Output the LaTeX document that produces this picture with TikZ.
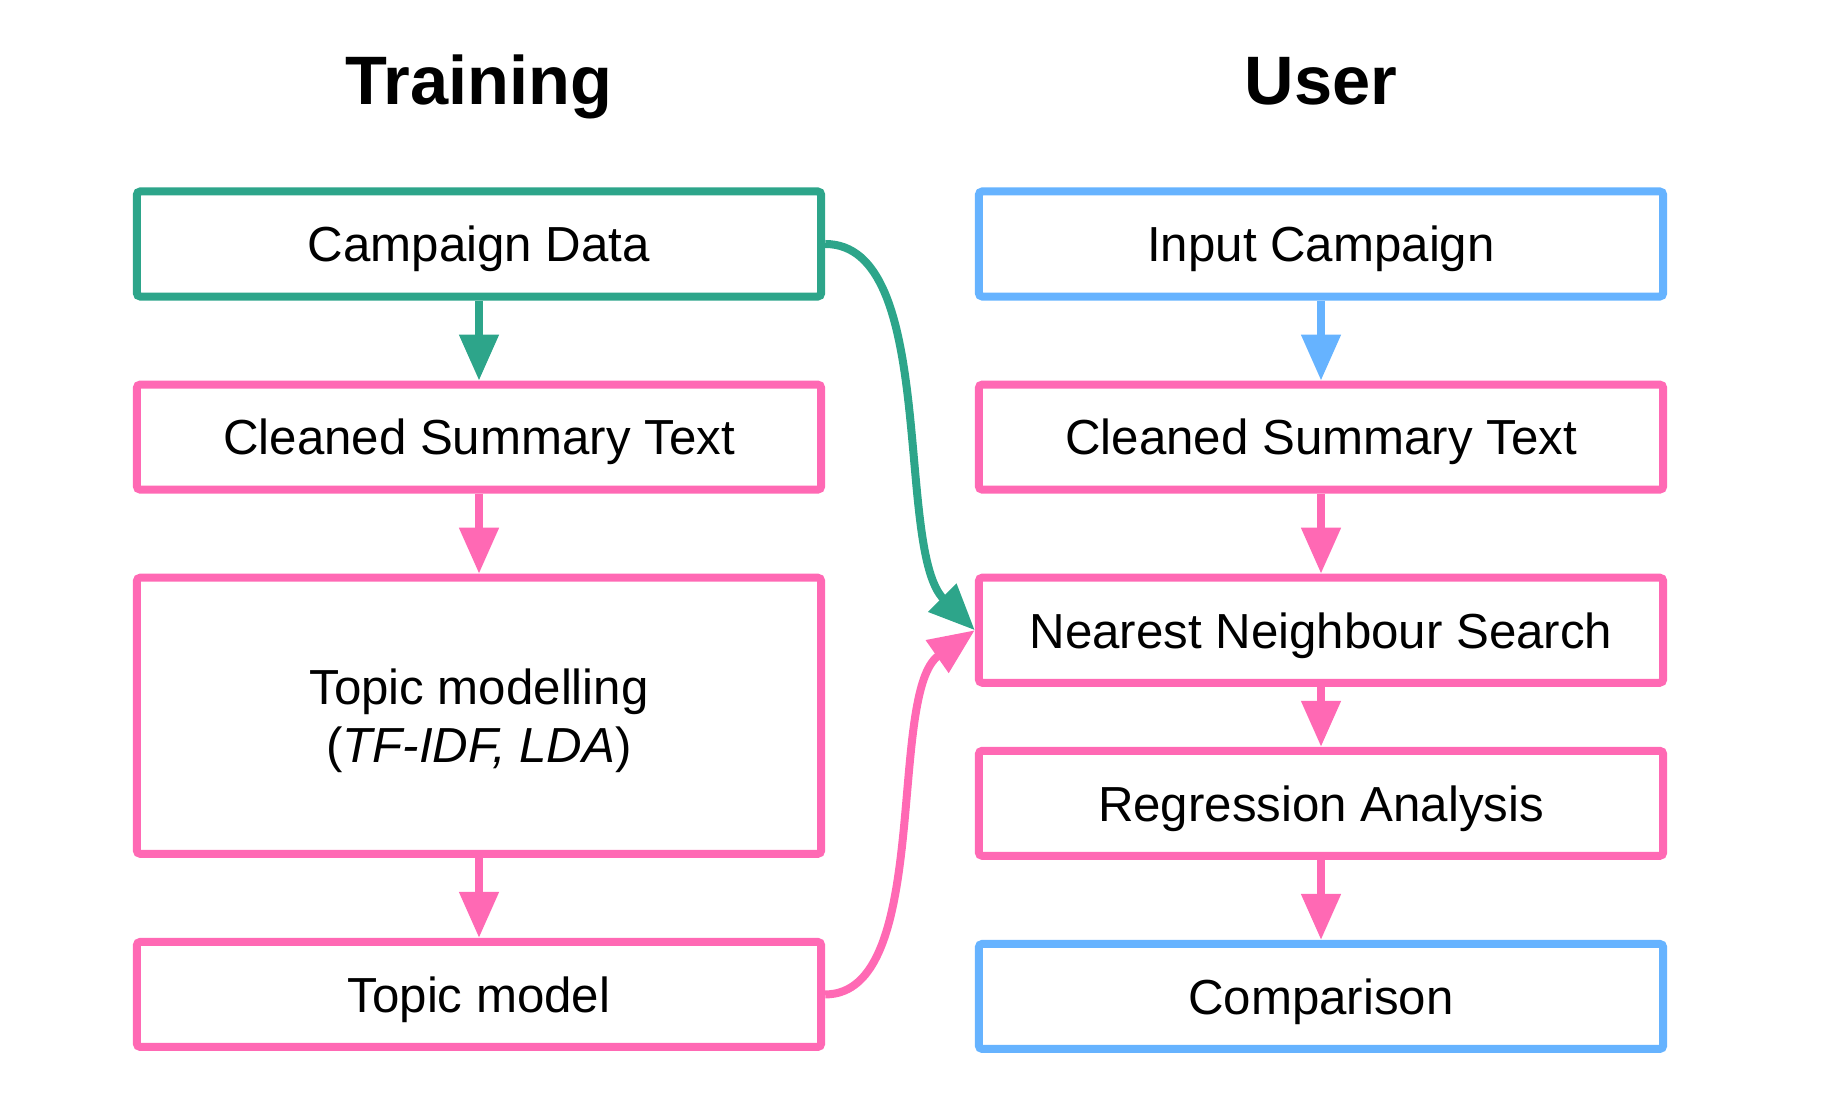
\documentclass[tikz,border=0pt]{standalone}
\usepackage{fontspec}
\setmainfont{Liberation Sans}
\usetikzlibrary{arrows.meta,positioning}
\definecolor{train-green}{HTML}{2DA58A}
\definecolor{step-pink}{HTML}{FF69B4}
\definecolor{user-blue}{HTML}{66B3FF}
\tikzset{
    flow-box/.style = {draw=#1, fill=white, line width=0.08cm, rectangle, rounded corners=1pt, inner sep=0pt, minimum width=6.84cm, minimum height=1.05cm, text depth=0pt, align=center, font=\fontsize{14}{16.5}\selectfont},
    col-title/.style = {anchor=base, font=\fontsize{19.5}{23}\selectfont\bfseries},
    flow-arrow/.style = {draw=#1, line width=0.08cm, -{Triangle[width=0.38cm, length=0.46cm]}},
}

\begin{document}
\begin{tikzpicture}[x=0.01cm, y=-0.01cm]
\useasboundingbox (0,0) rectangle (1828,1098);

\node[col-title] (train-title) at (479,105) {Training};
\node[col-title] (user-title) at (1321,105) {User};

% training side
\node[flow-box=train-green] (campaign) at (479,244) {Campaign Data};
\node[flow-box=step-pink, below=0.80cm of campaign] (clean-train) {Cleaned Summary Text};
\node[flow-box=step-pink, below=0.80cm of clean-train, minimum height=2.76cm] (topic-mod) {Topic modelling\\(\textit{TF-IDF, LDA})};
\node[flow-box=step-pink, below=0.80cm of topic-mod] (topic-model) {Topic model};

% user side
\node[flow-box=user-blue] (input) at (1321,244) {Input Campaign};
\node[flow-box=step-pink, below=0.80cm of input] (clean-user) {Cleaned Summary Text};
\node[flow-box=step-pink, below=0.80cm of clean-user] (neighbour) {Nearest Neighbour Search};
\node[flow-box=step-pink, below=0.60cm of neighbour] (regression) {Regression Analysis};
\node[flow-box=user-blue, below=0.80cm of regression] (compare) {Comparison};

\draw[flow-arrow=train-green] (campaign) -- (clean-train);
\draw[flow-arrow=step-pink] (clean-train) -- (topic-mod);
\draw[flow-arrow=step-pink] (topic-mod) -- (topic-model);

\draw[flow-arrow=user-blue] (input) -- (clean-user);
\draw[flow-arrow=step-pink] (clean-user) -- (neighbour);
\draw[flow-arrow=step-pink] (neighbour) -- (regression);
\draw[flow-arrow=step-pink] (regression) -- (compare);

\draw[flow-arrow=train-green] (campaign.east) to[out=0, in=135, looseness=0.7] (neighbour.west);
\draw[flow-arrow=step-pink] (topic-model.east) to[out=0, in=-145, looseness=0.7] (neighbour.west);
\end{tikzpicture}
\end{document}
